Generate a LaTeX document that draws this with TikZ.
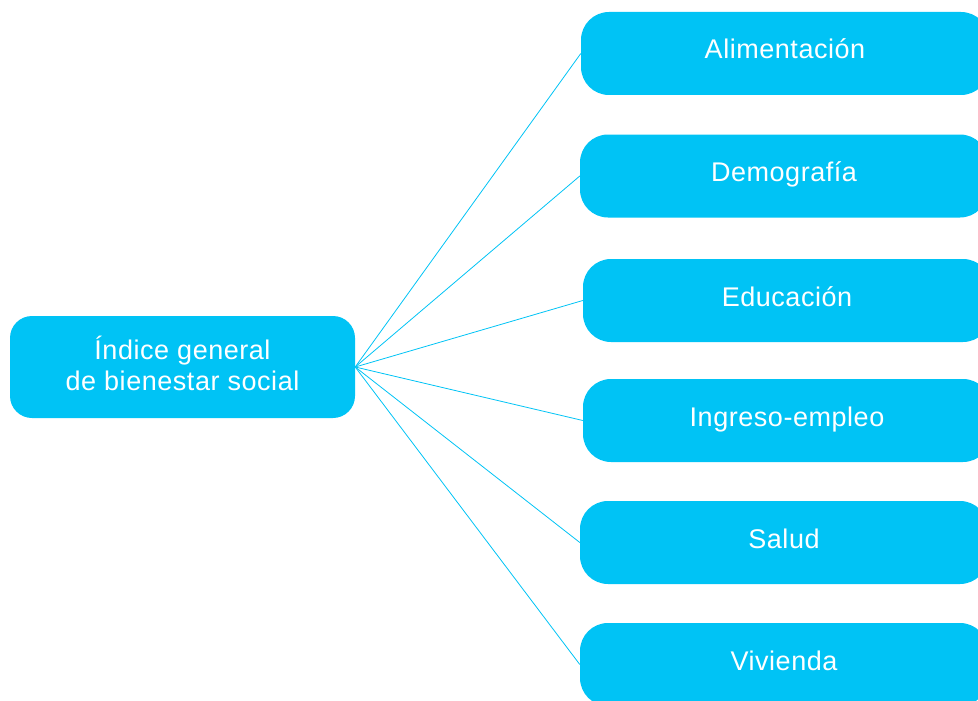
\documentclass[tikz,border=0pt]{standalone}
\usepackage{fontspec}
\setmainfont{Liberation Sans}[LetterSpace=2]
\definecolor{boxblue}{RGB}{0,195,245}
\begin{document}
\begin{tikzpicture}[x=1pt,y=-1pt,
  base/.style={fill=boxblue,draw=none,text=white,inner sep=0pt,font=\fontsize{27}{31}\selectfont},
  leaf/.style={base,minimum width=408pt,minimum height=83pt,rounded corners=28pt,text height=20pt,text depth=9pt},
  root/.style={base,minimum width=345pt,minimum height=102pt,rounded corners=22pt,align=center,text height=46pt,text depth=0pt},
  link/.style={draw=boxblue,line width=0.8pt}]
\useasboundingbox (0,0) rectangle (978,701);
\clip (0,0) rectangle (978,701);
\node[root] (r) at (182.5,367) {Índice general\\de bienestar social};
\node[leaf] (a) at (785,53.5) {Alimentación};
\node[leaf] (d) at (784,176) {Demografía};
\node[leaf] (e) at (787,300.5) {Educación};
\node[leaf] (i) at (787,420.5) {Ingreso-empleo};
\node[leaf] (s) at (784,542.5) {Salud};
\node[leaf] (v) at (784,664.5) {Vivienda};
\foreach \t in {a,d,e,i,s,v} \draw[link] (r.east) -- (\t.west);
\end{tikzpicture}
\end{document}
